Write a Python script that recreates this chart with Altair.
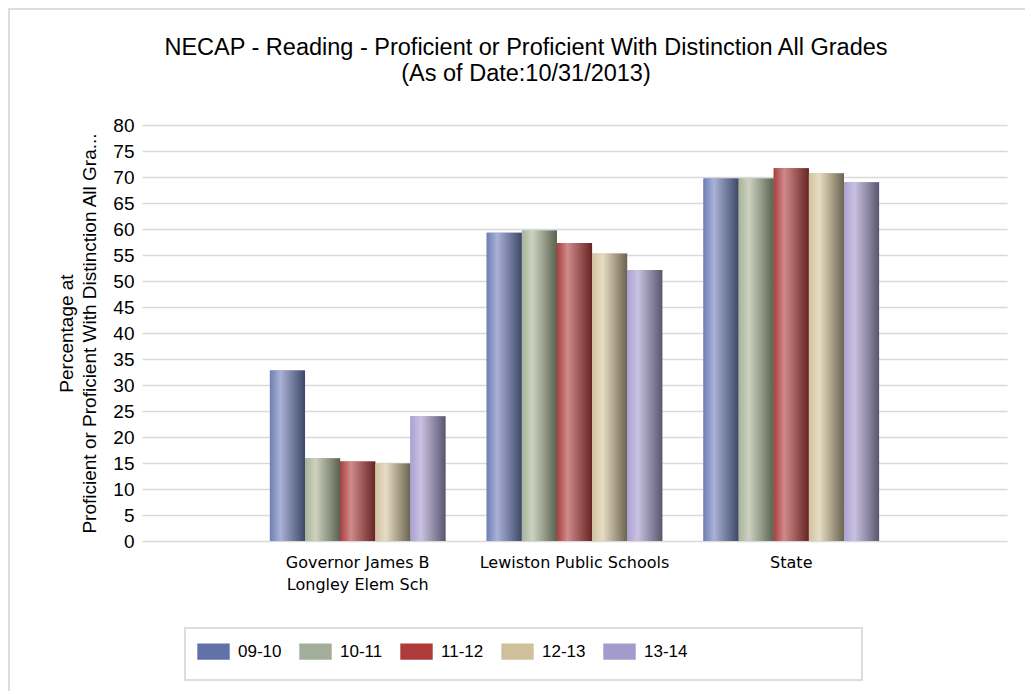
import altair as alt
import pandas as pd

title_line1 = "NECAP - Reading - Proficient or Proficient With Distinction All Grades"
title_line2 = "(As of Date:10/31/2013)"
schools = ["Governor James B\nLongley Elem Sch", "Lewiston Public Schools", "State"]
years = ["09-10", "10-11", "11-12", "12-13", "13-14"]
v_0910 = [32.8, 59.3, 69.7]
v_1011 = [15.9, 59.7, 69.7]
v_1112 = [15.3, 57.3, 71.7]
v_1213 = [14.9, 55.3, 70.7]
v_1314 = [24.0, 52.1, 69.0]
series = [v_0910, v_1011, v_1112, v_1213, v_1314]

legend_colors = ["#6272A8", "#A3AE98", "#AE3A3A", "#CEC09A", "#A39BCB"]
grad_colors = [
    ("#6F7FB5", "#A9B2D6", "#3D4766"),
    ("#A8B39A", "#CDD2C0", "#59624F"),
    ("#A83F3F", "#D08A8A", "#662424"),
    ("#CFC29F", "#E6DDC4", "#6A634E"),
    ("#A9A1D1", "#C9C2E2", "#5A566E"),
]

rows = []
for y, vals in zip(years, series):
    for s, v in zip(schools, vals):
        rows.append({"school": s, "year": y, "value": v})
df = pd.DataFrame(rows)

FONT = "Liberation Sans"

x_enc = alt.X("school:N", sort=schools,
              scale=alt.Scale(paddingInner=0.19, paddingOuter=0.59),
              axis=alt.Axis(title=None, labelAngle=0, domain=False, ticks=False,
                            labelPadding=13, labelFontSize=16, labelFont="DejaVu Sans",
                            labelColor="#000000", labelLineHeight=22, labelLimit=400,
                            labelExpr="split(datum.label, '\\n')"))
xo_enc = alt.XOffset("year:N", sort=years, scale=alt.Scale(domain=years))
y_enc = alt.Y("value:Q", scale=alt.Scale(domain=[0, 80], nice=False),
              axis=alt.Axis(values=list(range(0, 85, 5)), domain=False, ticks=False,
                            labelPadding=8, labelFontSize=19, labelFont=FONT,
                            labelColor="#000000", gridColor="#D9D9D9", gridWidth=1.5,
                            title=["Percentage at",
                                   "Proficient or Proficient With Distinction All Gra..."],
                            titleFontSize=19, titleFont=FONT, titleFontWeight="normal",
                            titleColor="#000000", titlePadding=13, titleLineHeight=23,
                            titleLimit=600))

base = alt.Chart(df).mark_bar().encode(
    x=x_enc, xOffset=xo_enc, y=y_enc,
    color=alt.Color("year:N", sort=years,
                    scale=alt.Scale(domain=years, range=legend_colors),
                    legend=alt.Legend(title=None, orient="none", legendX=55, legendY=510,
                                      direction="horizontal", columns=5,
                                      symbolType="M-1,-0.5H1V0.5H-1Z", symbolSize=1050,
                                      symbolStrokeWidth=0, labelFontSize=17, labelFont=FONT,
                                      labelColor="#000000", columnPadding=17, labelOffset=8)),
)

layers = [base]
for y, (c0, c1, c2) in zip(years, grad_colors):
    g = alt.LinearGradient(gradient="linear", x1=0, x2=1, y1=0, y2=0,
                           stops=[alt.GradientStop(offset=0, color=c0),
                                  alt.GradientStop(offset=0.3, color=c1),
                                  alt.GradientStop(offset=1, color=c2)])
    layers.append(
        alt.Chart(df).mark_bar(fill=g).encode(x=x_enc, xOffset=xo_enc, y=y_enc)
        .transform_filter(alt.datum.year == y)
    )

one = alt.Data(values=[{"k": 1}])
legend_box = alt.Chart(one).mark_rect(fill="transparent", stroke="#DDDDDD", strokeWidth=2).encode(
    x=alt.value(43), x2=alt.value(720), y=alt.value(503), y2=alt.value(555))
border_left = alt.Chart(one).mark_rule(color="#DDDDDD", strokeWidth=2).encode(
    x=alt.value(-133), y=alt.value(-117), y2=alt.value(570))
border_top = alt.Chart(one).mark_rule(color="#DDDDDD", strokeWidth=2).encode(
    x=alt.value(-134), x2=alt.value(900), y=alt.value(-116))
t1 = alt.Chart(one).mark_text(text=title_line1, font=FONT, fontSize=23.5, color="#000000",
                              align="center", baseline="alphabetic").encode(
    x=alt.value(384), y=alt.value(-70))
t2 = alt.Chart(one).mark_text(text=title_line2, font=FONT, fontSize=23.5, color="#000000",
                              align="center", baseline="alphabetic").encode(
    x=alt.value(384), y=alt.value(-44))

chart = alt.layer(*layers, legend_box, border_left, border_top, t1, t2).properties(
    width=865, height=416,
    padding={"left": 134, "top": 117, "right": 18, "bottom": 150},
    autosize=alt.AutoSizeParams(type="none"),
).configure_view(stroke=None)

chart.save("out.html", embed_options={"renderer": "svg", "actions": False})
